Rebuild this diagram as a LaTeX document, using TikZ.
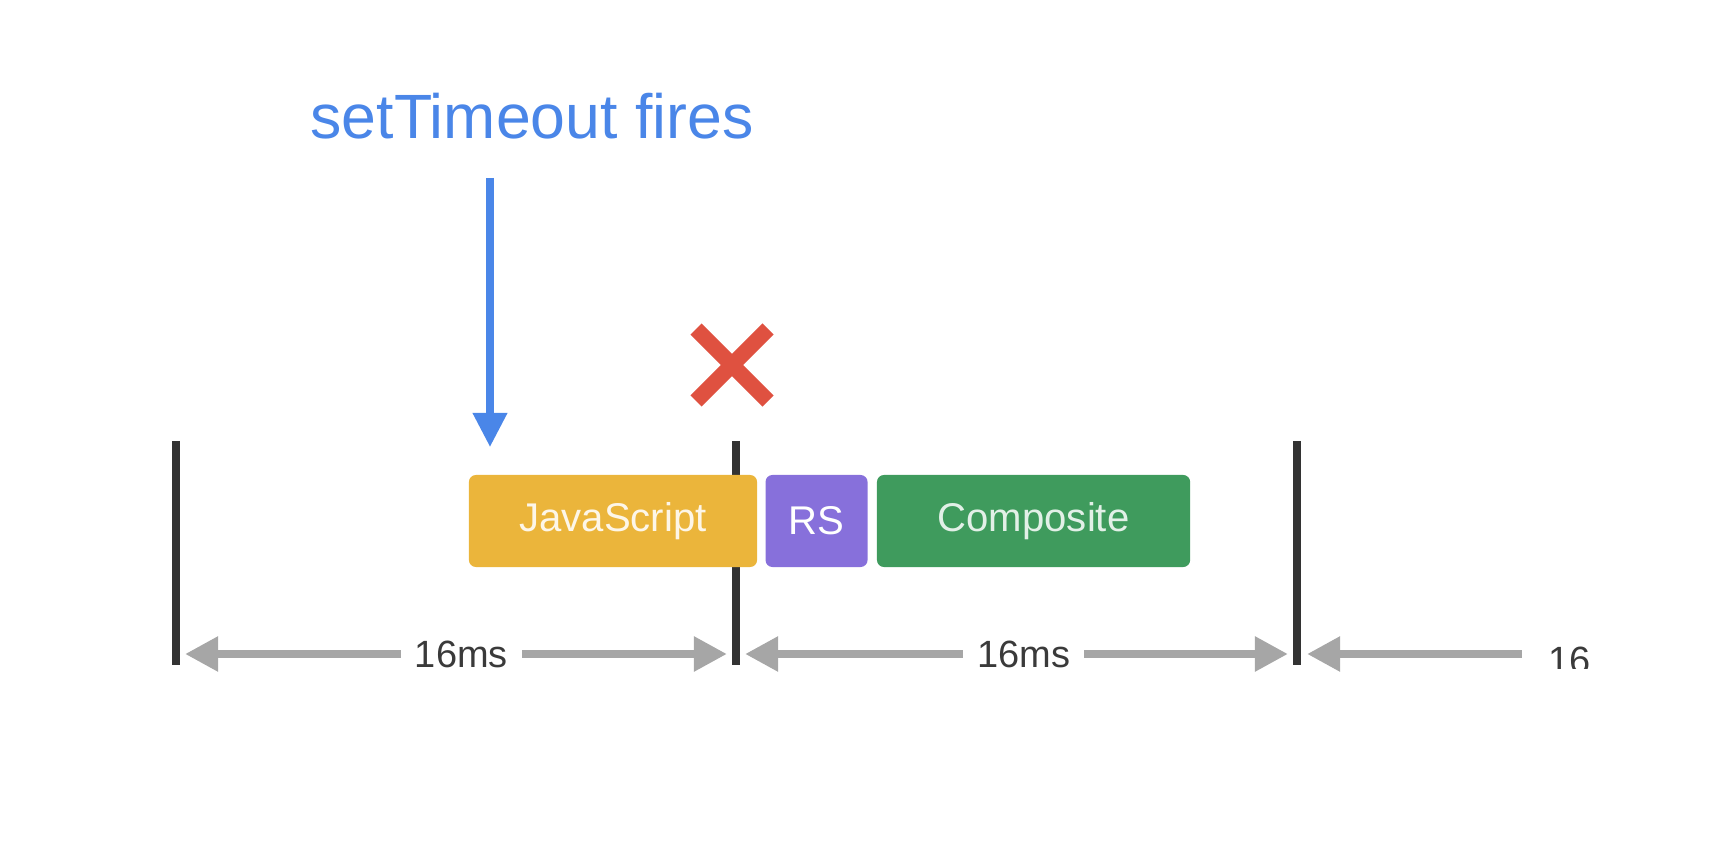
\documentclass[tikz,border=0pt]{standalone}
\usepackage{fontspec}
\setmainfont{Liberation Sans}
\usetikzlibrary{arrows.meta,positioning}
\definecolor{fireblue}{HTML}{4A86E8}
\definecolor{missred}{HTML}{DF5140}
\definecolor{jsfill}{HTML}{EBB53B}
\definecolor{rsfill}{HTML}{8770DB}
\definecolor{compfill}{HTML}{3F9B5D}
\definecolor{tickgray}{HTML}{333333}
\definecolor{dimgray}{HTML}{A6A6A6}
\definecolor{dimtextcol}{HTML}{3A3A3A}
\tikzset{
  frametick/.style={draw=tickgray, line width=2.3pt},
  stage/.style={rounded corners=0.07cm, minimum height=0.92cm, inner sep=0pt,
    font=\fontsize{11.4pt}{13pt}\selectfont},
  dimline/.style={draw=dimgray, line width=2.4pt,
    {Triangle[length=0.33cm,width=0.33cm]}-{Triangle[length=0.33cm,width=0.33cm]}},
  dimtext/.style={text=dimtextcol, font=\fontsize{10.8pt}{12pt}\selectfont},
  dimlabel/.style={dimtext, fill=white, inner xsep=0.14cm, inner ysep=1pt},
}
\begin{document}
\begin{tikzpicture}[x=0.01cm, y=-0.01cm]
  \useasboundingbox (0,0) rectangle (1718,858);
  % frame boundaries
  \foreach \x in {176,736,1297}
    \draw[frametick] (\x,441) -- (\x,665);
  \coordinate (f0) at (176,654); \coordinate (f1) at (736,654);
  \coordinate (f2) at (1297,654);
  % setTimeout label and arrow
  \node[text=fireblue, anchor=base, font=\fontsize{17.8pt}{20pt}\selectfont] (fires) at (532,139) {setTimeout fires};
  \coordinate (fireTop) at (490,178); \coordinate (fireTip) at (490,447);
  \draw[fireblue, line width=2pt, -{Triangle[length=0.34cm,width=0.33cm]}] (fireTop) -- (fireTip);
  % missed frame
  \coordinate (miss) at (732,365);
  \draw[missred, line width=4.5pt] ([shift={(-36,-36)}]miss) -- ([shift={(36,36)}]miss);
  \draw[missred, line width=4.5pt] ([shift={(-36,36)}]miss) -- ([shift={(36,-36)}]miss);
  % work in the frame
  \node[stage, fill=jsfill, text=jsfill!12!white, minimum width=2.88cm] (js) at (613,521) {JavaScript};
  \node[stage, fill=rsfill, text=white, minimum width=1.02cm, right=0.07cm of js] (rs) {RS};
  \node[stage, fill=compfill, text=compfill!15!white, minimum width=3.13cm, right=0.08cm of rs] (comp) {Composite};
  % frame lengths
  \draw[dimline] ([xshift=0.09cm]f0) -- ([xshift=-0.09cm]f1) node[dimlabel, pos=0.51] (len0) {16ms};
  \draw[dimline] ([xshift=0.09cm]f1) -- ([xshift=-0.09cm]f2) node[dimlabel, pos=0.513] (len1) {16ms};
  \coordinate (cutEnd) at (1522,654);
  \draw[draw=dimgray, line width=2.4pt, {Triangle[length=0.33cm,width=0.33cm]}-] ([xshift=0.1cm]f2) -- (cutEnd);
  \begin{scope}
    \clip (1530,600) rectangle (1640,668);
    \node[dimtext, anchor=base west, inner sep=0pt] (len2) at (1548,673) {16};
  \end{scope}
\end{tikzpicture}
\end{document}
